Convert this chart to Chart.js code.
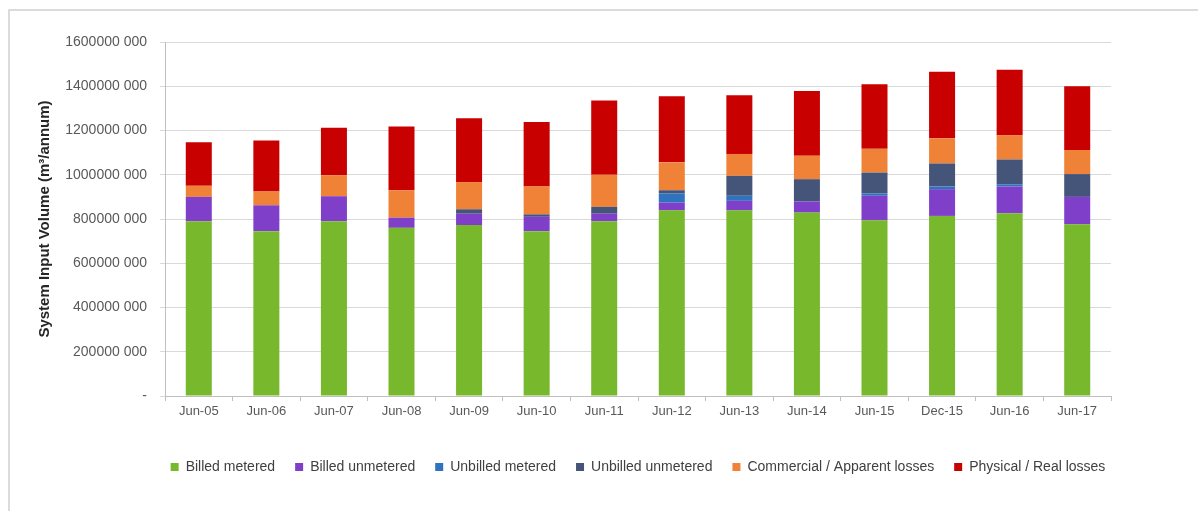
<!DOCTYPE html>
<html>
<head>
<meta charset="utf-8">
<script src="https://cdn.jsdelivr.net/npm/chart.js@4/dist/chart.umd.min.js"></script>
<style>
  html, body { margin: 0; padding: 0; background: #fff; }
  #wrap { width: 1198px; height: 511px; }
</style>
</head>
<body>
<div id="wrap"><canvas id="sivChart"></canvas></div>
<script>
const categories = ['Jun-05', 'Jun-06', 'Jun-07', 'Jun-08', 'Jun-09', 'Jun-10', 'Jun-11',
    'Jun-12', 'Jun-13', 'Jun-14', 'Jun-15', 'Dec-15', 'Jun-16', 'Jun-17'];

// volumes in million m³/annum
const billedMetered     = [790, 745, 790, 760, 773, 745, 790, 839, 839, 829, 794, 814, 826, 776];
const billedUnmetered   = [110, 117, 113, 46, 51, 65, 34, 35, 43, 50, 111, 121, 121, 124];
const unbilledMetered   = [0, 0, 0, 0, 0, 0, 0, 41, 23, 0, 10, 12, 10, 0];
const unbilledUnmetered = [0, 0, 0, 0, 20, 11, 31, 15, 90, 101, 95, 104, 112, 103];
const apparentLosses    = [50, 62, 95, 124, 123, 126, 145, 126, 99, 106, 107, 114, 110, 109];
const realLosses        = [197, 231, 214, 288, 288, 291, 336, 299, 265, 293, 292, 300, 296, 288];

const yTicks = [0, 200, 400, 600, 800, 1000, 1200, 1400, 1600];

const toM3 = arr => arr.map(v => v * 1000000);

function tickLabel(value) {
    if (value === 0) return '-';
    return Math.round(value / 1000) + ' 000';
}

// light frame round the chart
const framePlugin = {
    id: 'frame',
    beforeDraw(chart) {
        const c = chart.ctx;
        c.save();
        c.fillStyle = '#ffffff';
        c.fillRect(0, 0, chart.width, chart.height);
        c.strokeStyle = '#cfcfcf';
        c.lineWidth = 1.5;
        c.strokeRect(9, 10, chart.width + 20, chart.height + 20);
        c.restore();
    }
};

// centre the legend under the plot area instead of the whole canvas
const legendShift = {
    id: 'legendShift',
    afterLayout(chart) {
        const lg = chart.legend, area = chart.chartArea;
        if (!lg || !area) return;
        const dx = (area.left + area.right) / 2 - (lg.left + lg.right) / 2;
        lg.left += dx;
        lg.right += dx;
    }
};

const series = [
    { label: 'Billed metered', data: billedMetered, color: '#77b82d' },
    { label: 'Billed unmetered', data: billedUnmetered, color: '#7f3fc8' },
    { label: 'Unbilled metered', data: unbilledMetered, color: '#2f73be' },
    { label: 'Unbilled unmetered', data: unbilledUnmetered, color: '#45557a' },
    { label: 'Commercial / Apparent losses', data: apparentLosses, color: '#ef8237' },
    { label: 'Physical / Real losses', data: realLosses, color: '#c80000' }
];

new Chart(document.getElementById('sivChart'), {
    type: 'bar',
    data: {
        labels: categories,
        datasets: series.map(s => ({
            label: s.label,
            data: toM3(s.data),
            backgroundColor: s.color,
            borderWidth: 0,
            barPercentage: 0.385,
            categoryPercentage: 1
        }))
    },
    plugins: [framePlugin, legendShift],
    options: {
        responsive: true,
        maintainAspectRatio: false,
        animation: false,
        layout: {
            padding: { left: 30, top: 42, right: 87, bottom: 27 }
        },
        scales: {
            x: {
                stacked: true,
                grid: {
                    offset: true,
                    drawOnChartArea: false,
                    drawTicks: true,
                    tickLength: 5,
                    color: '#bfbfbf'
                },
                border: { color: '#bfbfbf' },
                ticks: {
                    color: '#595959',
                    font: { family: 'Liberation Sans', size: 13 },
                    padding: 3,
                    maxRotation: 0,
                    autoSkip: false
                },
                afterFit(scale) { scale.height = 44; }
            },
            y: {
                stacked: true,
                min: 0,
                max: 1600000000,
                afterBuildTicks(scale) {
                    scale.ticks = yTicks.map(v => ({ value: v * 1000000 }));
                },
                grid: {
                    color: '#d9d9d9',
                    tickLength: 5
                },
                border: { color: '#bfbfbf' },
                ticks: {
                    color: '#595959',
                    font: { family: 'Liberation Sans', size: 14 },
                    padding: 13,
                    callback: tickLabel
                },
                title: {
                    display: true,
                    text: 'System Input Volume (m³/annum)',
                    color: '#262626',
                    font: { family: 'Liberation Sans', size: 15, weight: 'bold' },
                    padding: { top: 6, bottom: 0 }
                },
                afterFit(scale) { scale.width = 135; }
            }
        },
        plugins: {
            legend: {
                position: 'bottom',
                labels: {
                    boxWidth: 8,
                    boxHeight: 8,
                    padding: 20,
                    color: '#404040',
                    font: { family: 'Liberation Sans', size: 14 }
                }
            },
            tooltip: { enabled: false }
        }
    }
});
</script>
</body>
</html>
